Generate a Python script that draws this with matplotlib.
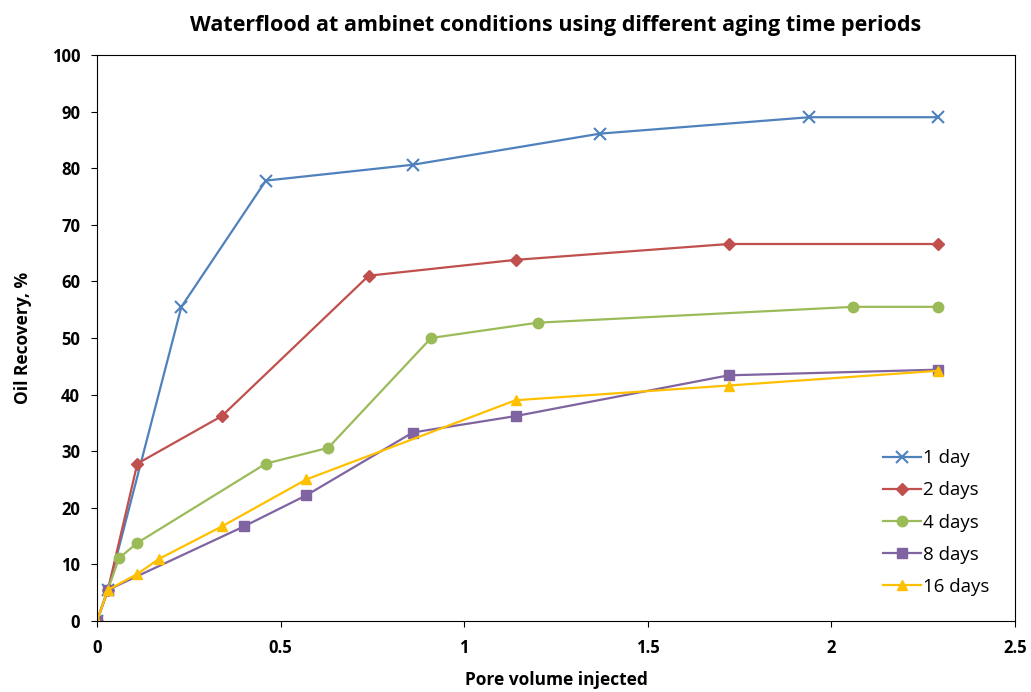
import matplotlib.pyplot as plt

plt.rcParams['font.family'] = ['Open Sans', 'DejaVu Sans']

# pore volume injected / oil recovery (%) per aging period
pv_1 = [0, 0.03, 0.23, 0.46, 0.86, 1.37, 1.94, 2.29]
rec_1 = [0, 5.5, 55.5, 77.8, 80.6, 86.1, 89.0, 89.0]

pv_2 = [0, 0.03, 0.11, 0.34, 0.74, 1.14, 1.72, 2.29]
rec_2 = [0, 5.5, 27.8, 36.2, 61.0, 63.8, 66.6, 66.6]

pv_4 = [0, 0.03, 0.06, 0.11, 0.46, 0.63, 0.91, 1.20, 2.06, 2.29]
rec_4 = [0, 5.5, 11.1, 13.8, 27.8, 30.6, 50.0, 52.7, 55.5, 55.5]

pv_8 = [0, 0.03, 0.40, 0.57, 0.86, 1.14, 1.72, 2.29]
rec_8 = [0, 5.5, 16.7, 22.2, 33.3, 36.2, 43.4, 44.4]

pv_16 = [0, 0.03, 0.11, 0.17, 0.34, 0.57, 1.14, 1.72, 2.29]
rec_16 = [0, 5.5, 8.3, 11.0, 16.7, 25.0, 39.0, 41.6, 44.2]

fig = plt.figure(figsize=(10.31, 6.92), dpi=100)
ax = fig.add_axes([0.094, 0.1026, 0.8905, 0.818])

ax.plot(pv_1, rec_1, color='#4F81BD', marker='x', ms=8, mew=1.5, lw=1.6, label='1 day')
ax.plot(pv_2, rec_2, color='#C0504D', marker='D', ms=6.5, lw=1.6, label='2 days')
ax.plot(pv_4, rec_4, color='#9BBB59', marker='o', ms=7.5, lw=1.6, label='4 days')
ax.plot(pv_8, rec_8, color='#8064A2', marker='s', ms=7, lw=1.6, label='8 days')
ax.plot(pv_16, rec_16, color='#FFC000', marker='^', ms=7.5, lw=1.6, label='16 days')

ax.set_xlim(0, 2.5)
ax.set_ylim(0, 100)
ax.set_xticks([0, 0.5, 1, 1.5, 2, 2.5])
ax.set_xticklabels(['0', '0.5', '1', '1.5', '2', '2.5'])
ax.set_yticks(range(0, 101, 10))
ax.tick_params(direction='out', length=4, labelsize=12)
ax.tick_params(axis='x', pad=9)
ax.tick_params(axis='y', pad=8)
for lbl in ax.get_xticklabels() + ax.get_yticklabels():
    lbl.set_fontweight('bold')

ax.set_xlabel('Pore volume injected', fontsize=12.5, fontweight='bold', labelpad=10)
ax.set_ylabel('Oil Recovery, %', fontsize=12.5, fontweight='bold', labelpad=14)
ax.set_title('Waterflood at ambinet conditions using different aging time periods',
             fontsize=15.5, fontweight='bold', pad=17)

ax.legend(loc='lower right', frameon=False, fontsize=13.5, bbox_to_anchor=(0.99, 0.015),
          handlelength=2.0, labelspacing=0.75, handletextpad=0.1)

fig.savefig('out.png')
